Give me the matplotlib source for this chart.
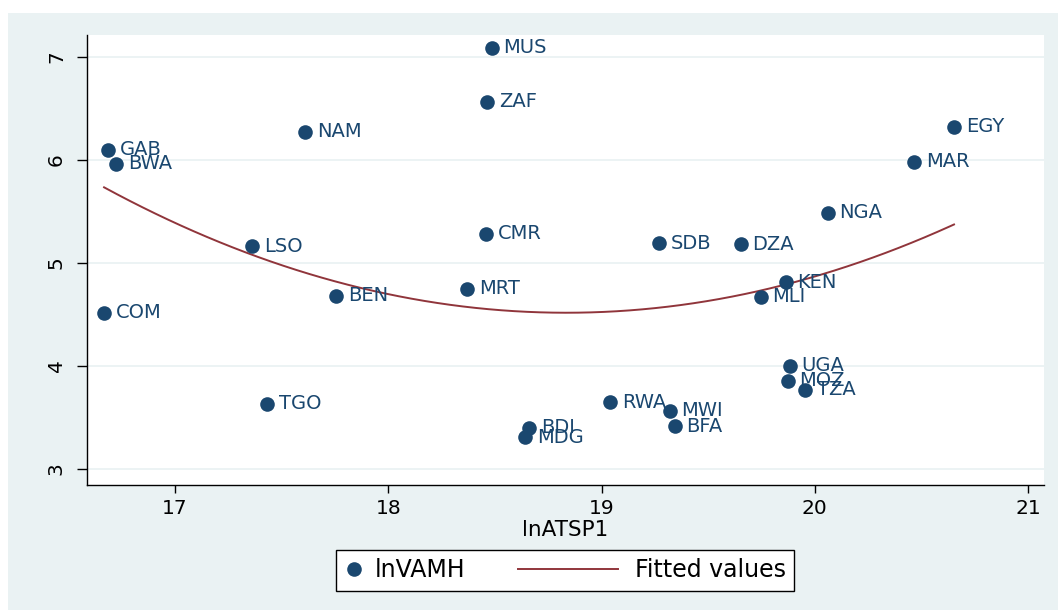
import numpy as np
import matplotlib
matplotlib.use("Agg")
import matplotlib.pyplot as plt
from matplotlib.patches import Rectangle
from matplotlib.lines import Line2D
from matplotlib.legend_handler import HandlerLine2D

countries = ["MUS", "ZAF", "NAM", "GAB", "BWA", "EGY", "MAR", "NGA", "CMR", "SDB",
             "DZA", "LSO", "KEN", "MLI", "MRT", "BEN", "COM", "UGA", "MOZ", "TZA",
             "TGO", "RWA", "MWI", "BFA", "BDI", "MDG"]
ln_atsp1 = [18.484, 18.465, 17.610, 16.685, 16.723, 20.653, 20.465, 20.061, 18.460, 19.268,
            19.653, 17.362, 19.864, 19.746, 18.371, 17.756, 16.667, 19.883, 19.873, 19.953,
            17.432, 19.042, 19.319, 19.343, 18.662, 18.643]
ln_vamh = [7.087, 6.563, 6.272, 6.097, 5.961, 6.320, 5.980, 5.485, 5.280, 5.190,
           5.180, 5.160, 4.810, 4.670, 4.750, 4.680, 4.515, 4.000, 3.855, 3.767,
           3.631, 3.650, 3.563, 3.417, 3.398, 3.310]
x_ticks = [17, 18, 19, 20, 21]
y_ticks = [3, 4, 5, 6, 7]

NAVY = "#1A476F"
MAROON = "#90353B"
BG = "#EAF2F3"

W, H = 1058, 610
fig = plt.figure(figsize=(W / 100, H / 100), dpi=100)
fig.patch.set_facecolor("white")
fig.add_artist(Rectangle((8 / W, 0), 1 - 8 / W, 1 - 13 / H, transform=fig.transFigure,
                         facecolor=BG, edgecolor="none", zorder=-10))

ax = fig.add_axes([87 / W, 1 - 485 / H, (1044 - 87) / W, (485 - 35) / H])
ax.set_facecolor("white")

x = np.array(ln_atsp1)
y = np.array(ln_vamh)
coef = np.polyfit(x, y, 2)
xs = np.linspace(x.min(), x.max(), 200)
ax.plot(xs, np.polyval(coef, xs), color=MAROON, lw=1.4, zorder=2)

ax.plot(x, y, "o", color=NAVY, markersize=10.5, markeredgewidth=0, zorder=3)
for c, xi, yi in zip(countries, ln_atsp1, ln_vamh):
    ax.annotate(c, (xi, yi), xytext=(8.5, 0), textcoords="offset points",
                va="center", ha="left", fontsize=14, color=NAVY, zorder=4)

ax.set_xlim(16.587, 21.075)
ax.set_ylim(2.845, 7.21)
ax.set_xticks(x_ticks)
ax.set_yticks(y_ticks)
ax.set_xticklabels([str(t) for t in x_ticks], fontsize=14.5)
ax.set_yticklabels([str(t) for t in y_ticks], fontsize=14.5, rotation=90, va="center")
ax.tick_params(axis="x", direction="out", length=5.4, width=1, color="black", pad=5)
ax.tick_params(axis="y", direction="out", length=7.2, width=1, color="black", pad=8)
ax.yaxis.grid(True, color=BG, lw=1.3)
ax.set_axisbelow(True)
for s in ["top", "right"]:
    ax.spines[s].set_visible(False)
for s in ["left", "bottom"]:
    ax.spines[s].set_linewidth(1.0)
ax.set_xlabel("lnATSP1", fontsize=15.5, labelpad=1)


class LongLineHandler(HandlerLine2D):
    """Draw the legend line longer, extending left into the column gap."""
    def create_artists(self, legend, orig_handle, xdescent, ydescent, width, height,
                       fontsize, trans):
        arts = super().create_artists(legend, orig_handle, xdescent, ydescent, width,
                                      height, fontsize, trans)
        end = width - xdescent - 4.0
        for a in arts:
            n = len(a.get_xdata())
            if n >= 2:
                a.set_xdata(np.linspace(end - 72.0, end, n))
        return arts


line_handle = Line2D([], [], color=MAROON, lw=1.4)
handles = [Line2D([], [], marker="o", ls="none", color=NAVY, markersize=10.5, markeredgewidth=0),
           line_handle]
leg = fig.legend(handles, ["lnVAMH", "Fitted values"], loc="center",
                 bbox_to_anchor=(565 / W, 1 - 570 / H), ncol=2, fontsize=17,
                 frameon=True, fancybox=False, edgecolor="black", facecolor="white",
                 framealpha=1, handlelength=0.8, columnspacing=5.9, handletextpad=0.48,
                 borderpad=0.36, handler_map={line_handle: LongLineHandler()})
leg.get_frame().set_linewidth(1.0)

fig.savefig("out.png", dpi=100, facecolor=fig.get_facecolor())
